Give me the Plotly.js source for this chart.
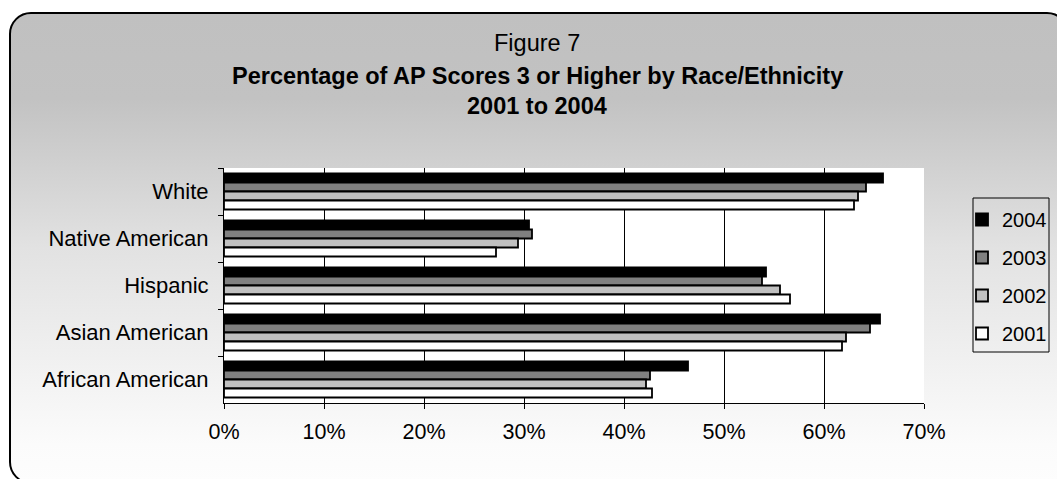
<!DOCTYPE html>
<html>
<head>
<meta charset="utf-8">
<script src="https://cdn.plot.ly/plotly-3.0.1.min.js"></script>
<style>
  html, body { margin: 0; padding: 0; background: #ffffff; overflow: hidden; }
  #frame {
    position: absolute; left: 9px; top: 12px; width: 1060px; height: 472px;
    border: 2px solid #000; border-radius: 22px; box-sizing: border-box;
    background: linear-gradient(to bottom, #c0c0c0 0%, #c2c2c2 18%, #e2e2e2 50%, #fbfbfb 92%, #fdfdfd 100%);
  }
  #chart { position: absolute; left: 0; top: 0; width: 1057px; height: 479px; }
</style>
</head>
<body>
<div id="frame"></div>
<div id="chart"></div>
<script>
// Groups, listed top to bottom
const groups = ['White', 'Native American', 'Hispanic', 'Asian American', 'African American'];

// Share of AP exam scores of 3 or higher (%), one array per year
const y2004 = [65.9, 30.5, 54.2, 65.6, 46.4];
const y2003 = [64.2, 30.8, 53.8, 64.6, 42.6];
const y2002 = [63.4, 29.4, 55.6, 62.2, 42.2];
const y2001 = [63.0, 27.2, 56.6, 61.8, 42.8];

const years = ['2004', '2003', '2002', '2001'];
const seriesValues = [y2004, y2003, y2002, y2001];
const fills = ['#000000', '#808080', '#c0c0c0', '#ffffff'];

const font = 'Liberation Sans, Arial, sans-serif';

// plot area in pixels, used to place the titles and the legend frame
const plotLeft = 224, plotTop = 168, plotW = 700, plotH = 235;
const px = (x) => (x - plotLeft) / plotW;
const py = (y) => (plotTop + plotH - y) / plotH;

const traces = seriesValues.map((vals, i) => ({
  type: 'bar',
  orientation: 'h',
  name: years[i],
  legendgroup: years[i],
  x: vals,
  y: groups,
  marker: { color: fills[i], line: { color: '#000000', width: 1.8 } },
  hoverinfo: 'x+name'
}));

const layout = {
  width: 1057,
  height: 479,
  margin: { l: plotLeft, r: 1057 - plotLeft - plotW, t: plotTop, b: 479 - plotTop - plotH, pad: 0 },
  paper_bgcolor: 'rgba(0,0,0,0)',
  plot_bgcolor: '#ffffff',
  font: { family: font, size: 21.5, color: '#000000' },
  barmode: 'group',
  bargap: 0.234,
  bargroupgap: 0,
  showlegend: true,
  legend: {
    xref: 'container', yref: 'container',
    x: 962 / 1057, y: 1 - 200 / 479, xanchor: 'left', yanchor: 'top',
    traceorder: 'grouped',
    tracegroupgap: 9,
    bgcolor: 'rgba(0,0,0,0)', borderwidth: 0,
    font: { family: font, size: 20, color: '#000000' }
  },
  xaxis: {
    range: [0, 70], dtick: 10, ticksuffix: '%',
    showgrid: true, gridcolor: '#000000', gridwidth: 1,
    showline: true, linecolor: '#000000', linewidth: 1,
    ticks: 'outside', ticklen: 5, tickcolor: '#000000', tickwidth: 1,
    ticklabelstandoff: 4,
    zeroline: false, fixedrange: true
  },
  yaxis: {
    type: 'category',
    autorange: 'reversed',
    showgrid: false,
    showline: true, linecolor: '#000000', linewidth: 1,
    ticks: 'outside', ticklen: 5, tickcolor: '#000000', tickwidth: 1,
    tickson: 'boundaries',
    ticklabelstandoff: 10,
    tickfont: { family: font, size: 22 },
    zeroline: false, fixedrange: true
  },
  shapes: [{
    // border around the legend entries
    type: 'rect', xref: 'paper', yref: 'paper',
    x0: px(973), x1: px(1049), y0: py(352), y1: py(198),
    line: { color: '#000000', width: 1 }, fillcolor: 'rgba(0,0,0,0)', layer: 'below'
  }],
  annotations: [
    { text: 'Figure 7', xref: 'paper', yref: 'paper', x: px(537), y: py(43),
      xanchor: 'center', yanchor: 'middle', showarrow: false, font: { family: font, size: 23.5 } },
    { text: '<b>Percentage of AP Scores 3 or Higher by Race/Ethnicity</b>', xref: 'paper', yref: 'paper',
      x: px(537), y: py(75.5), xanchor: 'center', yanchor: 'middle', showarrow: false,
      font: { family: font, size: 23.5 } },
    { text: '<b>2001 to 2004</b>', xref: 'paper', yref: 'paper', x: px(537), y: py(105.5),
      xanchor: 'center', yanchor: 'middle', showarrow: false, font: { family: font, size: 23.5 } }
  ]
};

Plotly.newPlot('chart', traces, layout, { displayModeBar: false, staticPlot: true });
</script>
</body>
</html>
